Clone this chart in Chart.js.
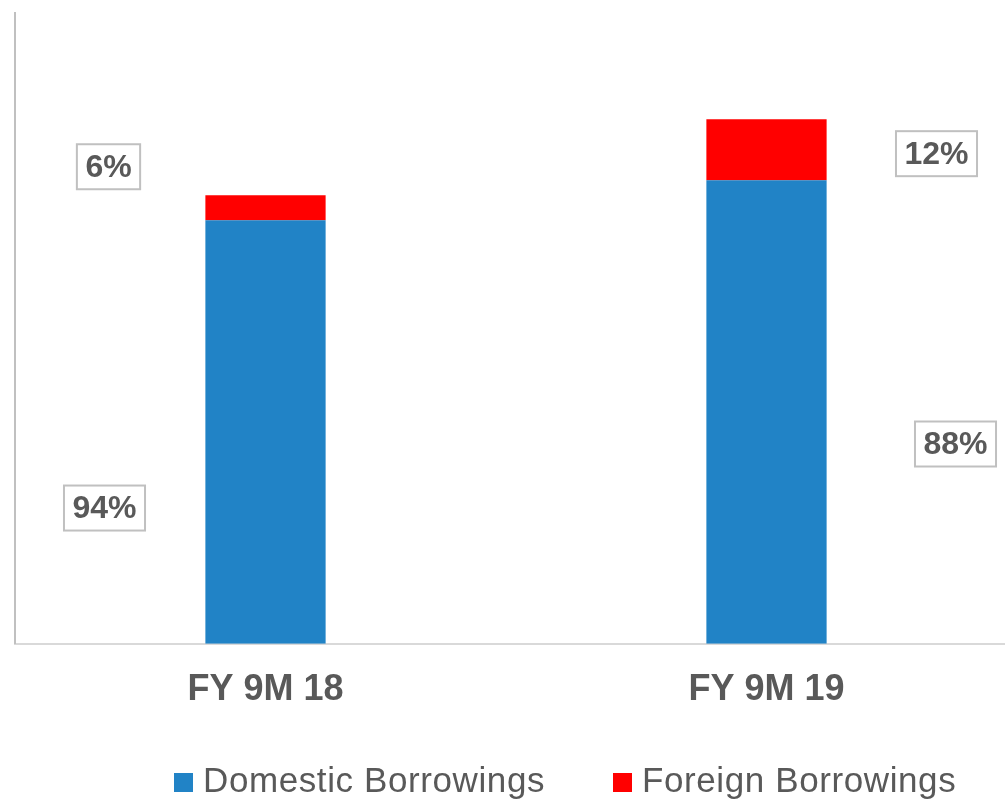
<!DOCTYPE html>
<html>
<head>
<meta charset="utf-8">
<script src="https://cdn.jsdelivr.net/npm/chart.js@4"></script>
<style>
  body { margin: 0; background: #fff; overflow: hidden; }
  #wrap { position: relative; width: 1020px; height: 806px; }
  .key { position: absolute; width: 19px; height: 19px; top: 773px; }
  .keyText { position: absolute; top: 762px; font: 35px "Liberation Sans", Arial, sans-serif; line-height: 35px; color: #595959; letter-spacing: 0.6px; white-space: nowrap; }
</style>
</head>
<body>
<div id="wrap">
  <canvas id="borrowChart"></canvas>
  <div class="key" style="left:174px; background:#2183c6;"></div>
  <div class="keyText" id="key0" style="left:203px;"></div>
  <div class="key" style="left:613px; background:#ff0000;"></div>
  <div class="keyText" id="key1" style="left:642px;"></div>
</div>
<script>
// periods and borrowings mix (units)
const periods = ['FY 9M 18', 'FY 9M 19'];
const seriesNames = ['Domestic Borrowings', 'Foreign Borrowings'];
const domestic = [42.3, 46.3];
const foreign = [2.5, 6.1];
const seriesColors = ['#2183c6', '#ff0000'];

document.getElementById('key0').textContent = seriesNames[0];
document.getElementById('key1').textContent = seriesNames[1];

// where each share box sits, relative to the middle of its segment
const boxOffsets = [
  [[-161, 76], [189, 32]],   // domestic: per period
  [[-157, -41], [170, 4]]    // foreign
];

const shareBoxes = {
  id: 'shareBoxes',
  afterDatasetsDraw(chart) {
    const ctx = chart.ctx;
    const sets = chart.data.datasets;
    ctx.save();
    ctx.font = 'bold 32px "Liberation Sans", Arial, sans-serif';
    ctx.textAlign = 'center';
    ctx.textBaseline = 'middle';
    sets.forEach((ds, d) => {
      const meta = chart.getDatasetMeta(d);
      meta.data.forEach((bar, i) => {
        const total = sets.reduce((s, x) => s + x.data[i], 0);
        const txt = Math.round(ds.data[i] / total * 100) + '%';
        const cx = bar.x + boxOffsets[d][i][0];
        const cy = (bar.y + bar.base) / 2 + boxOffsets[d][i][1];
        const w = ctx.measureText(txt).width + 17;
        const h = 45;
        ctx.fillStyle = '#ffffff';
        ctx.fillRect(cx - w / 2, cy - h / 2, w, h);
        ctx.strokeStyle = '#c0c0c0';
        ctx.lineWidth = 2;
        ctx.strokeRect(cx - w / 2, cy - h / 2, w, h);
        ctx.fillStyle = '#595959';
        ctx.fillText(txt, cx, cy + 1);
      });
    });
    ctx.restore();
  }
};

new Chart(document.getElementById('borrowChart').getContext('2d'), {
  type: 'bar',
  data: {
    labels: periods,
    datasets: [
      { label: seriesNames[0], data: domestic, backgroundColor: seriesColors[0] },
      { label: seriesNames[1], data: foreign, backgroundColor: seriesColors[1] }
    ]
  },
  options: {
    responsive: true,
    maintainAspectRatio: false,
    animation: false,
    layout: { padding: { left: 15, right: 3, top: 13, bottom: 69 } },
    datasets: { bar: { barPercentage: 0.8, categoryPercentage: 0.3 } },
    plugins: {
      legend: { display: false },
      tooltip: { enabled: false }
    },
    scales: {
      x: {
        stacked: true,
        grid: { display: false, drawTicks: false },
        border: { display: true, color: '#d9d9d9', width: 2 },
        ticks: {
          color: '#595959',
          padding: 25,
          font: { family: '"Liberation Sans", Arial, sans-serif', size: 36, weight: 'bold' }
        }
      },
      y: {
        stacked: true,
        min: 0,
        max: 63,
        grid: { display: false, drawTicks: false },
        border: { display: true, color: '#c0c0c0', width: 2 },
        ticks: { display: false }
      }
    }
  },
  plugins: [shareBoxes]
});
</script>
</body>
</html>
